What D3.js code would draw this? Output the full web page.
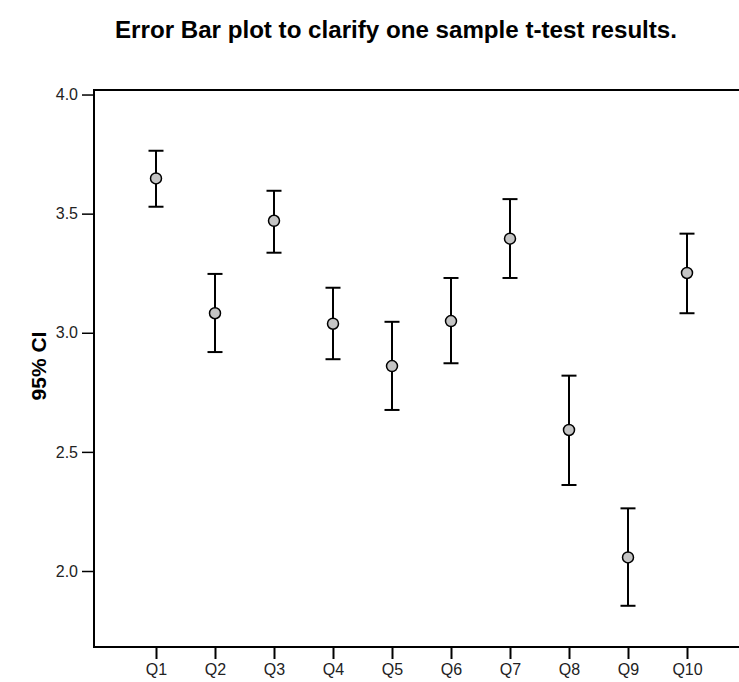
<!DOCTYPE html>
<html>
<head>
<meta charset="utf-8">
<script src="https://cdn.jsdelivr.net/npm/d3@7"></script>
<style>
  body { margin: 0; background: #fff; }
  svg { display: block; font-family: "Liberation Sans", Arial, sans-serif; }
</style>
</head>
<body>
<svg width="739" height="682"></svg>
<script>
// one sample t-test, 95% CI per question
var questions = ["Q1", "Q2", "Q3", "Q4", "Q5", "Q6", "Q7", "Q8", "Q9", "Q10"];
var means = [3.648, 3.082, 3.470, 3.038, 2.860, 3.049, 3.395, 2.592, 2.057, 3.251];
var upper = [3.764, 3.247, 3.596, 3.189, 3.046, 3.230, 3.561, 2.820, 2.263, 3.416];
var lower = [3.529, 2.919, 3.336, 2.889, 2.676, 2.872, 3.230, 2.361, 1.854, 3.082];
var yTicks = [2.0, 2.5, 3.0, 3.5, 4.0];

var data = questions.map(function (q, i) {
    return { q: q, mean: means[i], hi: upper[i], lo: lower[i] };
});

var svg = d3.select("svg");
var plot = { left: 94, right: 739, top: 90, bottom: 647 };

var x = d3.scalePoint().domain(questions).range([156, 687]);
var y = d3.scaleLinear().domain([1.681, 4.019]).range([plot.bottom, plot.top]);

// frame (open on the right, like the original)
svg.append("path")
    .attr("fill", "none").attr("stroke", "#000").attr("stroke-width", 2)
    .attr("d", "M" + plot.right + "," + plot.top + "H" + plot.left + "V" + plot.bottom + "H" + plot.right);

var yAxis = svg.append("g").attr("transform", "translate(" + plot.left + ",0)")
    .call(d3.axisLeft(y).tickValues(yTicks).tickFormat(d3.format(".1f")).tickSize(12).tickPadding(4));
yAxis.select(".domain").remove();
yAxis.selectAll("line").attr("stroke", "#000").attr("stroke-width", 1.5);
yAxis.selectAll("text").attr("font-size", 16).attr("fill", "#222").attr("font-family", null);

var xAxis = svg.append("g").attr("transform", "translate(0," + plot.bottom + ")")
    .call(d3.axisBottom(x).tickSize(12).tickPadding(5));
xAxis.select(".domain").remove();
xAxis.selectAll("line").attr("stroke", "#000").attr("stroke-width", 2);
xAxis.selectAll("text").attr("font-size", 16).attr("fill", "#222").attr("font-family", null);

// error bars
var bars = svg.append("g").selectAll("g").data(data).join("g")
    .attr("transform", function (d) { return "translate(" + x(d.q) + ",0)"; });

bars.append("line")
    .attr("y1", function (d) { return y(d.hi); })
    .attr("y2", function (d) { return y(d.lo); })
    .attr("stroke", "#000").attr("stroke-width", 2);

bars.selectAll(".cap").data(function (d) { return [d.hi, d.lo]; }).join("line")
    .attr("class", "cap")
    .attr("x1", -7.5).attr("x2", 7.5)
    .attr("y1", function (v) { return y(v); })
    .attr("y2", function (v) { return y(v); })
    .attr("stroke", "#000").attr("stroke-width", 2);

bars.append("circle")
    .attr("cy", function (d) { return y(d.mean); })
    .attr("r", 5.5)
    .attr("fill", "#c4c4c4").attr("stroke", "#000").attr("stroke-width", 1.5);

// title and y label
svg.append("text")
    .attr("x", 396).attr("y", 38)
    .attr("text-anchor", "middle")
    .attr("font-size", 23).attr("font-weight", "bold")
    .attr("textLength", 562).attr("lengthAdjust", "spacingAndGlyphs")
    .text("Error Bar plot to clarify one sample t-test results.");

svg.append("text")
    .attr("transform", "translate(46,366) rotate(-90)")
    .attr("text-anchor", "middle")
    .attr("font-size", 21).attr("font-weight", "bold")
    .text("95% CI");
</script>
</body>
</html>
